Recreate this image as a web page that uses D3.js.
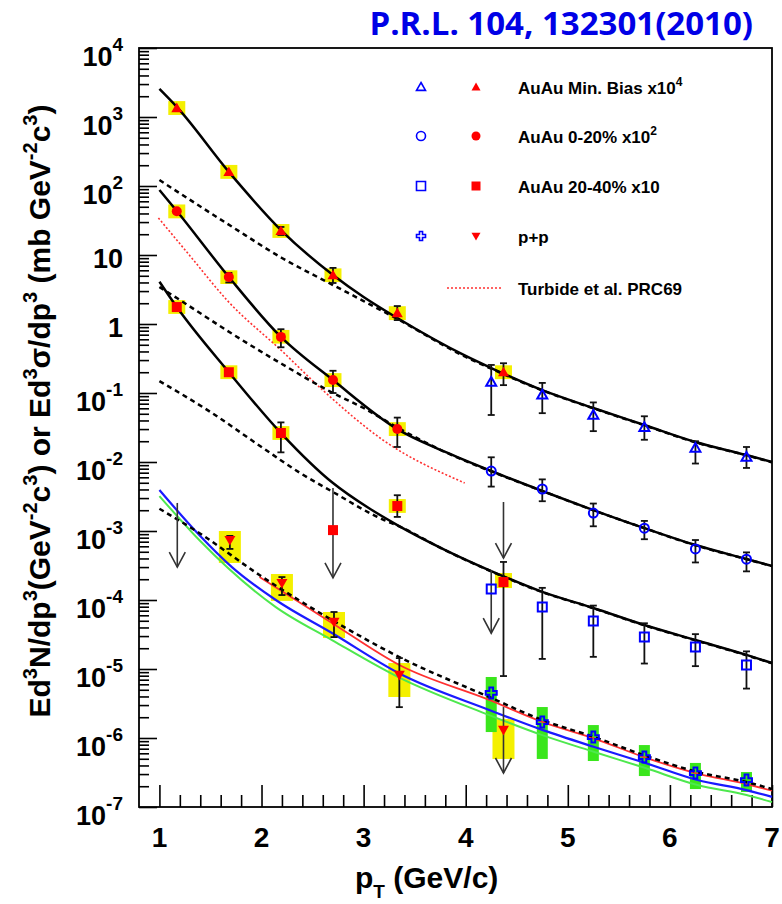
<!DOCTYPE html>
<html>
<head>
<meta charset="utf-8">
<script src="https://cdn.jsdelivr.net/npm/d3@7"></script>
<style>
  body { margin: 0; background: #fff; }
  text { font-family: "Liberation Sans", Arial, Helvetica, sans-serif; font-weight: bold; }
</style>
</head>
<body>
<svg id="chart" width="782" height="904"></svg>
<script>
// ---- values ----
const xTickValues = [1, 2, 3, 4, 5, 6, 7];
const yTickExponents = [-7, -6, -5, -4, -3, -2, -1, 0, 1, 2, 3, 4];

// red (virtual photon) points: [pT, value, errLo, errHi, sysLo, sysHi]
const mbVirtual = [
    [1.17, 1350, null, null, 1070, 1700],
    [1.68, 160, null, null, 127, 202],
    [2.19, 22.3, 19.5, 25.5, 17.7, 28.1],
    [2.70, 5.1, 3.93, 6.5, 4.05, 6.4],
    [3.33, 1.44, 1.14, 1.82, 1.14, 1.81],
    [4.37, 0.20, 0.13, 0.27, 0.159, 0.252]
]
const centralVirtual = [
    [1.17, 43, null, null, 34, 54],
    [1.68, 4.8, 4.0, 5.5, 3.8, 6.0],
    [2.19, 0.65, 0.46, 0.84, 0.52, 0.82],
    [2.70, 0.154, 0.10, 0.21, 0.122, 0.194],
    [3.33, 0.030, 0.0165, 0.044, 0.0238, 0.0378]
]
const peripheralVirtual = [
    [1.17, 1.76, null, null, 1.40, 2.22],
    [1.68, 0.20, null, null, 0.159, 0.252],
    [2.19, 0.0263, 0.0138, 0.0375, 0.0209, 0.0331],
    [2.70, 0.00103, null, null, null, null],
    [3.33, 0.0023, 0.0016, 0.0033, 0.00183, 0.0029],
    [4.37, 1.82e-4, 7.9e-6, 3.56e-4, 1.49e-4, 2.46e-4]
]
const ppVirtual = [
    [1.69, 7.4e-4, 5.5e-4, 8.5e-4, 3.44e-4, 1.0e-3],
    [2.20, 1.76e-4, 1.18e-4, 2.15e-4, 9.7e-5, 2.38e-4],
    [2.71, 4.8e-5, 2.9e-5, 6.7e-5, 2.81e-5, 6.7e-5],
    [3.35, 8.2e-6, 2.8e-6, 1.44e-5, 3.93e-6, 1.22e-5],
    [4.37, 1.31e-6, null, null, 4.97e-7, 1.88e-6]
]

// blue (external conversion) points: [pT, value, errLo, errHi]
const mbConversion = [
    [4.25, 0.144, 0.048, 0.255],
    [4.75, 0.094, 0.051, 0.14],
    [5.25, 0.048, 0.028, 0.073],
    [5.75, 0.032, 0.021, 0.046],
    [6.25, 0.016, 0.0095, 0.020],
    [6.75, 0.0118, 0.0082, 0.0165]
]
const centralConversion = [
    [4.25, 0.0074, 0.0044, 0.0117],
    [4.75, 0.00406, 0.0027, 0.0056],
    [5.25, 0.00182, 0.00117, 0.0025],
    [5.75, 0.0011, 0.00076, 0.0014],
    [6.25, 0.00055, 0.00035, 0.00074],
    [6.75, 0.00039, 0.00026, 0.00049]
]
const peripheralConversion = [
    [4.25, 1.44e-4, null, null],
    [4.75, 7.9e-5, 1.4e-5, 1.5e-4],
    [5.25, 4.97e-5, 1.5e-5, 8.3e-5],
    [5.75, 2.9e-5, 1.2e-5, 4.6e-5],
    [6.25, 2.09e-5, 1.1e-5, 3.2e-5],
    [6.75, 1.14e-5, 5.2e-6, 1.8e-5]
]
// p+p conversion: [pT, value, sysLo, sysHi]
const ppConversion = [
    [4.25, 4.5e-6, 1.22e-6, 7.66e-6],
    [4.75, 1.7e-6, 4.97e-7, 2.81e-6],
    [5.25, 1.03e-6, 4.64e-7, 1.54e-6],
    [5.75, 5.3e-7, 2.81e-7, 7.9e-7],
    [6.25, 3.1e-7, 1.82e-7, 4.35e-7],
    [6.75, 2.46e-7, 1.65e-7, 3.21e-7]
]

// upper limits: [pT, top, arrow tip]
const upperLimits = [
    [1.175, 2.55e-3, 3.0e-4],
    [2.70, 4.2e-3, 2.1e-4],
    [4.37, 2.63e-3, 4.06e-4],
    [4.25, 2.7e-4, 3.3e-5],
    [4.37, 2.81e-6, 3.11e-7]
]

// curves: [pT, value]
const mbFit = [[1.0, 2550], [1.17, 1400], [1.68, 160], [2.19, 23], [2.70, 5.13], [3.0, 2.46], [3.33, 1.22],
    [4.0, 0.344], [4.25, 0.23], [4.75, 0.11], [5.25, 0.0606], [5.75, 0.0344], [6.25, 0.0195], [6.75, 0.0126], [7.0, 0.0100]]
const mbScaledPP = [[1.0, 122], [1.7, 26.3], [2.2, 9.06], [2.7, 3.67], [3.0, 2.15], [3.35, 1.14], [4.0, 0.333],
    [4.25, 0.225], [4.75, 0.109], [5.25, 0.06], [5.75, 0.034], [6.25, 0.0193], [6.75, 0.0125], [7.0, 0.0099]]
const centralFit = [[1.0, 87.5], [1.17, 43.5], [1.68, 4.8], [2.19, 0.65], [2.70, 0.154], [3.33, 0.030], [3.8, 0.014],
    [4.25, 0.0074], [4.75, 0.0038], [5.25, 0.00201], [5.75, 0.0011], [6.25, 6.27e-4], [6.75, 3.93e-4], [7.0, 3.11e-4]]
const centralScaledPP = [[1.0, 3.44], [1.2, 2.23], [1.7, 0.74], [2.2, 0.263], [2.7, 0.1], [3.0, 0.0606], [3.35, 0.0305],
    [3.8, 0.0139], [4.25, 0.0073], [4.75, 0.0038], [5.25, 0.002], [5.75, 0.0011], [6.25, 6.2e-4], [6.75, 3.9e-4], [7.0, 3.1e-4]]
const peripheralFit = [[1.0, 4.1], [1.17, 1.76], [1.68, 0.20], [2.19, 0.0263], [2.70, 0.00496], [3.05, 0.00215], [3.33, 0.00122],
    [3.8, 5.3e-4], [4.25, 2.63e-4], [4.75, 1.31e-4], [5.25, 7.66e-5], [5.75, 4.34e-5], [6.25, 2.63e-5], [6.75, 1.6e-5], [7.0, 1.22e-5]]
const peripheralScaledPP = [[1.0, 0.149], [1.5, 0.053], [2.0, 0.0165], [2.38, 0.0069], [2.7, 0.00367], [3.2, 0.00144],
    [3.33, 0.0012], [3.8, 5.25e-4], [4.25, 2.6e-4], [4.75, 1.3e-4], [5.25, 7.6e-5], [5.75, 4.3e-5], [6.25, 2.6e-5], [6.75, 1.58e-5], [7.0, 1.21e-5]]
const turbide = [[0.99, 34.4], [1.30, 9.7], [1.66, 2.23], [2.21, 0.393], [2.60, 0.110], [3.19, 0.0208], [3.99, 0.00497]]
const ppFit = [[1.0, 2.1e-3], [1.39, 9.35e-4], [1.98, 2.3e-4], [2.69, 5.13e-5], [3.35, 1.49e-5], [4.23, 3.93e-6],
    [4.75, 1.82e-6], [5.26, 1.03e-6], [5.77, 5.48e-7], [6.27, 3.21e-7], [6.75, 2.3e-7], [7.0, 1.82e-7]]
const ppBlue = [[1.0, 3.93e-3], [1.39, 8.75e-4], [1.71, 3.0e-4], [2.14, 1.0e-4], [2.69, 3.32e-5], [3.35, 8.6e-6],
    [4.23, 2.55e-6], [4.75, 1.31e-6], [5.26, 7.41e-7], [5.76, 4.35e-7], [6.27, 2.46e-7], [6.75, 1.76e-7], [7.0, 1.4e-7]]
const ppGreen = [[1.0, 3.21e-3], [1.39, 7.4e-4], [2.14, 7.9e-5], [2.69, 2.63e-5], [3.35, 7.5e-6],
    [4.23, 2.15e-6], [4.75, 1.1e-6], [5.26, 6.27e-7], [5.76, 3.67e-7], [6.27, 2.08e-7], [6.75, 1.49e-7], [7.0, 1.18e-7]]
const ppRed = [[1.98, 2.15e-4], [2.69, 4.64e-5], [3.35, 1.14e-5], [4.23, 3.56e-6], [4.75, 1.71e-6], [5.26, 9.8e-7],
    [5.76, 5.2e-7], [6.27, 3.05e-7], [6.75, 2.15e-7], [7.0, 1.72e-7]]

const legendLabels = [["AuAu Min. Bias x10", "4"], ["AuAu 0-20% x10", "2"], ["AuAu 20-40% x10", ""], ["p+p", ""]]
const legendTurbide = "Turbide et al. PRC69"
const title = "P.R.L. 104, 132301(2010)"
// y title pieces: [text, superscript]
const yTitleParts = [["Ed", "3"], ["N/dp", "3"], ["(GeV", "-2"], ["c", "3"], [") or Ed", "3"], ["σ/dp", "3"], [" (mb GeV", "-2"], ["c", "3"], [")", ""]]

// ---- drawing ----
const svg = d3.select("#chart")
const pLeft = 139, pRight = 772, pTop = 48, pBottom = 807
const blue = "#0000ff", red = "#ff0000"

const x = d3.scaleLinear().domain([0.8, 7]).range([pLeft, pRight])
const y = d3.scaleLog().domain([1e-7, 1e4]).range([pBottom, pTop])

// ticks
const xMinor = d3.range(5, 36).filter(i => i % 5 !== 0).map(i => i / 5)
svg.append("g").attr("class", "x axis")
    .attr("transform", `translate(0,${pBottom})`)
    .call(d3.axisBottom(x).tickValues(xTickValues).tickSize(-22).tickFormat(""))
svg.append("g").attr("class", "x axis minor")
    .attr("transform", `translate(0,${pBottom})`)
    .call(d3.axisBottom(x).tickValues(xMinor).tickSize(-12).tickFormat(""))

const yMajor = yTickExponents.map(e => Math.pow(10, e))
const yMinor = []
yTickExponents.slice(0, -1).forEach(e => {
    for (let k = 2; k <= 9; k++) yMinor.push(k * Math.pow(10, e))
})
svg.append("g").attr("class", "y axis")
    .attr("transform", `translate(${pLeft},0)`)
    .call(d3.axisLeft(y).tickValues(yMajor).tickSize(-18).tickFormat(""))
svg.append("g").attr("class", "y axis minor")
    .attr("transform", `translate(${pLeft},0)`)
    .call(d3.axisLeft(y).tickValues(yMinor).tickSize(-10).tickFormat(""))

svg.selectAll(".axis .domain").remove()
svg.selectAll(".axis line").attr("stroke", "#000").attr("stroke-width", 1.6)

svg.append("rect")
    .attr("x", pLeft).attr("y", pTop)
    .attr("width", pRight - pLeft).attr("height", pBottom - pTop)
    .attr("fill", "none").attr("stroke", "#000").attr("stroke-width", 1.8)

// tick labels
xTickValues.forEach(v => {
    svg.append("text").attr("x", x(v)).attr("y", 847)
        .attr("text-anchor", "middle").attr("font-size", 28).text(v)
})
yTickExponents.forEach(e => {
    const t = svg.append("text").attr("x", 123).attr("text-anchor", "end").attr("font-size", 27)
    const py = y(Math.pow(10, e))
    if (e === 0 || e === 1) {
        t.attr("y", py + 13).text(e === 0 ? "1" : "10")
    } else {
        t.attr("y", py + 18).text("10")
        t.append("tspan").attr("dy", -15).attr("font-size", 19).text(e)
    }
})

// axis titles
const xt = svg.append("text").attr("x", 355).attr("y", 888).attr("font-size", 30)
xt.append("tspan").text("p")
xt.append("tspan").attr("dy", 10).attr("font-size", 19).text("T")
xt.append("tspan").attr("dy", -10).text(" (GeV/c)")

const yt = svg.append("text")
    .attr("transform", "translate(50,411) rotate(-90)")
    .attr("text-anchor", "middle").attr("font-size", 30)
let shift = 0
yTitleParts.forEach(p => {
    yt.append("tspan").attr("dy", -shift).text(p[0])
    shift = 0
    if (p[1]) {
        yt.append("tspan").attr("dy", -13).attr("font-size", 20).text(p[1])
        shift = -13
    }
})

svg.append("text").attr("x", 753).attr("y", 35)
    .attr("text-anchor", "end")
    .style("font-family", "'Open Sans', 'Liberation Sans', sans-serif")
    .attr("font-size", 33).attr("fill", "#0000e6").text(title)

// systematic boxes
const plot = svg.append("g")
function boxes(data, width, color, lo, hi) {
    plot.selectAll(null).data(data.filter(d => d[lo] != null)).enter().append("rect")
        .attr("x", d => x(d[0]) - width / 2).attr("width", width)
        .attr("y", d => y(d[hi])).attr("height", d => y(d[lo]) - y(d[hi]))
        .attr("fill", color)
}
boxes(mbVirtual, 17, "#f4f000", 4, 5)
boxes(centralVirtual, 17, "#f4f000", 4, 5)
boxes(peripheralVirtual, 17, "#f4f000", 4, 5)
boxes(ppVirtual, 22, "#f4f000", 4, 5)
boxes(ppConversion, 11, "#3ae61c", 2, 3)

// curves
const line = d3.line().x(d => x(d[0])).y(d => y(d[1])).curve(d3.curveMonotoneX)
const curves = [
    [ppGreen, "#4ee84e", 2, null],
    [ppBlue, "#1a1aff", 2.2, null],
    [ppRed, "#ff3030", 1.8, null],
    [ppFit, "#000", 2.5, "5,4"],
    [turbide, "#ff3030", 1.6, "2,2"],
    [mbScaledPP, "#000", 2.5, "5,4"],
    [centralScaledPP, "#000", 2.5, "5,4"],
    [peripheralScaledPP, "#000", 2.5, "5,4"],
    [mbFit, "#000", 2.5, null],
    [centralFit, "#000", 2.5, null],
    [peripheralFit, "#000", 2.5, null]
]
curves.forEach(c => {
    plot.append("path").datum(c[0]).attr("d", line)
        .attr("fill", "none").attr("stroke", c[1]).attr("stroke-width", c[2])
        .attr("stroke-dasharray", c[3])
})

// error bars
function errorBars(data) {
    data.filter(d => d[2] != null).forEach(d => {
        const px = x(d[0])
        plot.append("line").attr("x1", px).attr("x2", px)
            .attr("y1", y(d[3])).attr("y2", y(d[2]))
            .attr("stroke", "#111").attr("stroke-width", 1.8)
        ;[d[2], d[3]].forEach(v => {
            plot.append("line").attr("x1", px - 3.5).attr("x2", px + 3.5)
                .attr("y1", y(v)).attr("y2", y(v))
                .attr("stroke", "#111").attr("stroke-width", 1.8)
        })
    })
}
;[mbVirtual, centralVirtual, peripheralVirtual, ppVirtual, mbConversion, centralConversion, peripheralConversion]
    .forEach(errorBars)

// upper limit arrows
upperLimits.forEach(d => {
    const px = x(d[0]), tip = y(d[2])
    plot.append("line").attr("x1", px).attr("x2", px)
        .attr("y1", y(d[1])).attr("y2", tip)
        .attr("stroke", "#333").attr("stroke-width", 1.6)
    plot.append("path")
        .attr("d", `M${px - 8},${tip - 15}L${px},${tip}L${px + 8},${tip - 15}`)
        .attr("fill", "none").attr("stroke", "#333").attr("stroke-width", 1.6)
})

// markers
function markerPath(shape, s) {
    const h = s / 2
    if (shape === "triUp") return `M0,${-h}L${h},${h * 0.75}L${-h},${h * 0.75}Z`
    if (shape === "triDown") return `M0,${h}L${h},${-h * 0.75}L${-h},${-h * 0.75}Z`
    if (shape === "square") return `M${-h},${-h}H${h}V${h}H${-h}Z`
    if (shape === "circle") return `M${h},0A${h},${h} 0 1,1 ${-h},0A${h},${h} 0 1,1 ${h},0Z`
    const b = s * 0.17
    return `M${-b},${-h}H${b}V${-b}H${h}V${b}H${b}V${h}H${-b}V${b}H${-h}V${-b}H${-b}Z`
}
function markers(data, shape, size, filled) {
    plot.selectAll(null).data(data).enter().append("path")
        .attr("transform", d => `translate(${x(d[0])},${y(d[1])})`)
        .attr("d", markerPath(shape, size))
        .attr("fill", filled ? red : "none")
        .attr("stroke", filled ? "none" : blue)
        .attr("stroke-width", 2)
}
markers(mbVirtual, "triUp", 11, true)
markers(centralVirtual, "circle", 10, true)
markers(peripheralVirtual, "square", 10, true)
markers(ppVirtual, "triDown", 11, true)
markers(mbConversion, "triUp", 10, false)
markers(centralConversion, "circle", 9, false)
markers(peripheralConversion, "square", 9, false)
markers(ppConversion, "cross", 11, false)

// legend
const legendRows = [87, 136, 186, 236]
const legendShapes = [["triUp", "triUp"], ["circle", "circle"], ["square", "square"], ["cross", "triDown"]]
legendLabels.forEach((lab, i) => {
    const ry = legendRows[i]
    svg.append("path").attr("transform", `translate(421,${ry})`)
        .attr("d", markerPath(legendShapes[i][0], 9))
        .attr("fill", "none").attr("stroke", blue).attr("stroke-width", 1.6)
    svg.append("path").attr("transform", `translate(476,${ry})`)
        .attr("d", markerPath(legendShapes[i][1], 9)).attr("fill", red)
    const t = svg.append("text").attr("x", 518).attr("y", ry + 7).attr("font-size", 17).text(lab[0])
    if (lab[1]) t.append("tspan").attr("dy", -8).attr("font-size", 12).text(lab[1])
})
svg.append("line").attr("x1", 447).attr("x2", 503).attr("y1", 288).attr("y2", 288)
    .attr("stroke", "#ff3030").attr("stroke-width", 1.6).attr("stroke-dasharray", "2,2")
svg.append("text").attr("x", 518).attr("y", 295).attr("font-size", 17).text(legendTurbide)
</script>
</body>
</html>
